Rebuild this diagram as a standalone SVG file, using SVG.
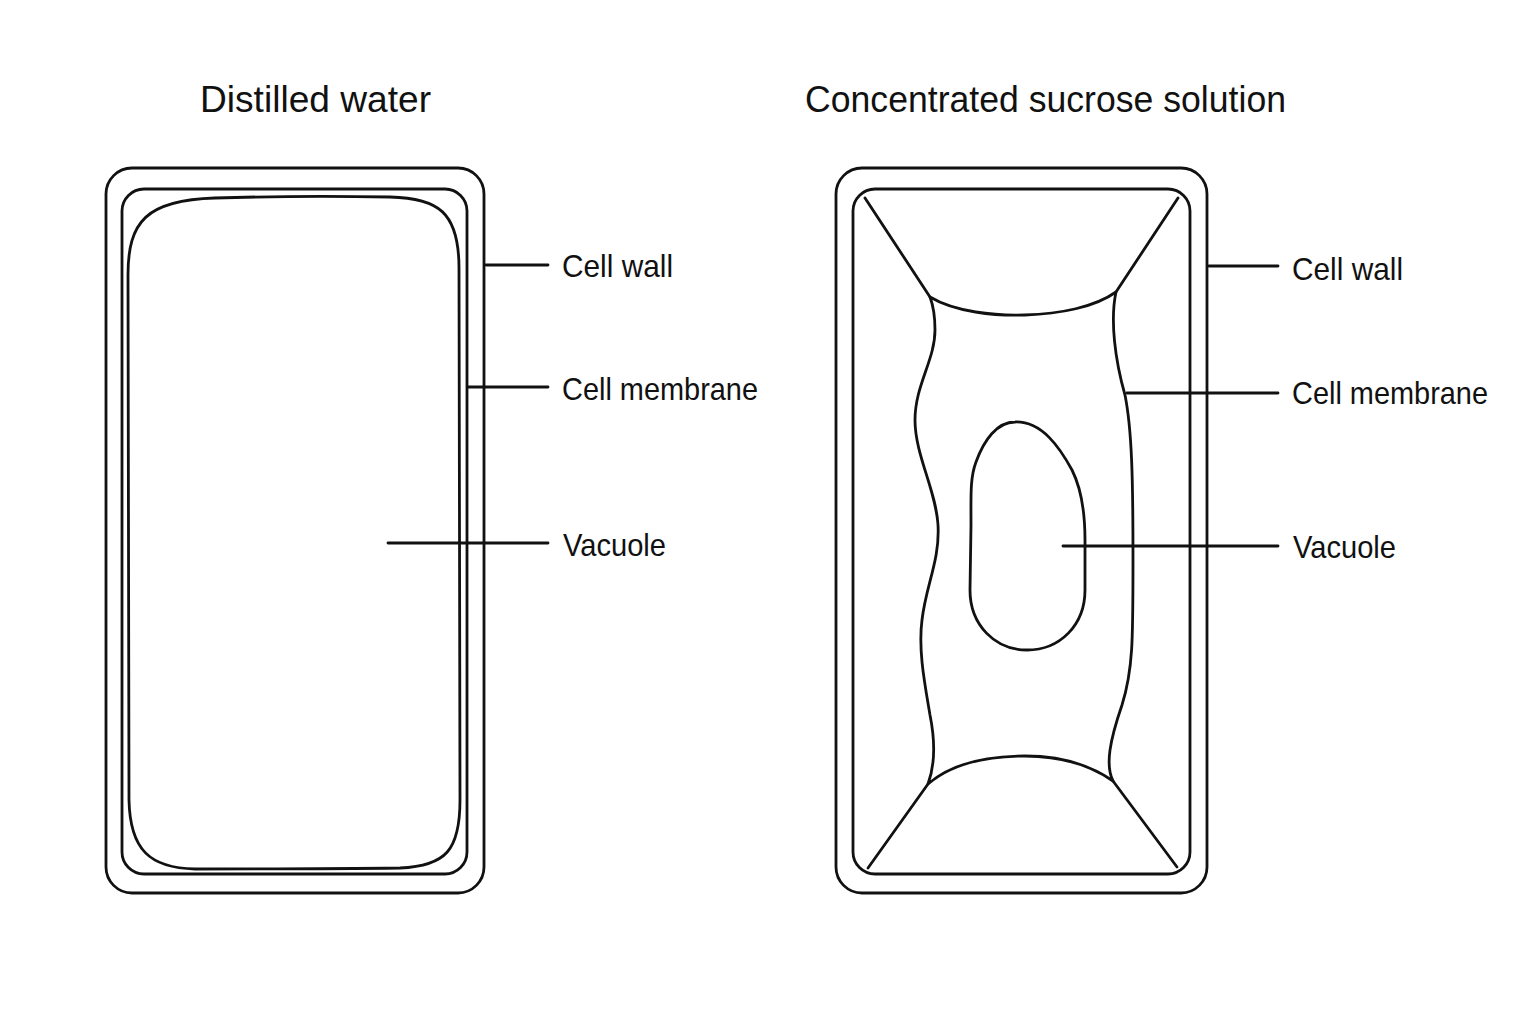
<svg xmlns="http://www.w3.org/2000/svg" width="1536" height="1024" viewBox="0 0 1536 1024">
<style>
.ln{fill:none;stroke:#111;stroke-width:2.8;stroke-linecap:round;stroke-linejoin:round}
.title{font-family:"Liberation Sans",Arial,sans-serif;font-size:37px;fill:#111}
.lbl{font-family:"Liberation Sans",Arial,sans-serif;font-size:32px;fill:#111}
</style>
<rect width="1536" height="1024" fill="#fff"/>
<text class="title" x="200" y="112" textLength="231" lengthAdjust="spacingAndGlyphs">Distilled water</text>
<text class="title" x="805" y="112" textLength="481" lengthAdjust="spacingAndGlyphs">Concentrated sucrose solution</text>

<g id="cell-distilled">
<rect class="ln" x="106" y="168" width="378" height="725" rx="26"/>
<rect class="ln" x="122" y="189" width="345" height="685" rx="22"/>
<path id="vacuole-left" class="ln" d="M128 275 C128 222 146 200 215 198 C280 196 330 196 390 197 C438 198 459 212 459 268 L460 800 C460 850 446 866 400 868 C330 869 260 869 195 869 C150 868 130 850 129 800 Z"/>
</g>

<g id="cell-sucrose">
<rect class="ln" x="836" y="168" width="371" height="725" rx="26"/>
<rect class="ln" x="853" y="189" width="337" height="685" rx="22"/>
<path id="protoplast" class="ln" d="M930 297 C955 312 995 316 1025 315 C1060 314 1095 307 1116 292 C1110 320 1115 360 1125 395 C1132 430 1133 480 1133 560 C1133 640 1133 670 1122 705 C1110 740 1105 765 1113 781 C1090 765 1060 756 1025 756 C985 756 950 765 928 784 C935 765 935 740 930 715 C925 685 918 650 922 620 C926 585 940 560 938 525 C936 490 915 455 915 420 C915 385 935 360 935 330 C935 315 933 305 930 297 Z"/>
<path class="ln" d="M865 198 L930 297"/>
<path class="ln" d="M1178 198 L1116 292"/>
<path class="ln" d="M868 868 L928 784"/>
<path class="ln" d="M1177 867 L1113 781"/>
<path id="vacuole-right" class="ln" d="M1015 422 C1042 421 1060 448 1072 470 C1082 490 1085 512 1085 540 L1085 590 C1085 625 1060 650 1027 650 C995 650 970 625 970 590 L971 525 C971 495 970 478 976 462 C984 440 997 422 1015 422 Z"/>
</g>

<g id="connectors">
<path class="ln" d="M486 265 H548"/>
<path class="ln" d="M468 387 H548"/>
<path class="ln" d="M388 543 H548"/>
<path class="ln" d="M1209 266 H1278"/>
<path class="ln" d="M1127 393 H1278"/>
<path class="ln" d="M1063 546 H1278"/>
</g>

<g id="labels">
<text class="lbl" x="562" y="277" textLength="111" lengthAdjust="spacingAndGlyphs">Cell wall</text>
<text class="lbl" x="562" y="400" textLength="196" lengthAdjust="spacingAndGlyphs">Cell membrane</text>
<text class="lbl" x="563" y="556" textLength="103" lengthAdjust="spacingAndGlyphs">Vacuole</text>
<text class="lbl" x="1292" y="280" textLength="111" lengthAdjust="spacingAndGlyphs">Cell wall</text>
<text class="lbl" x="1292" y="404" textLength="196" lengthAdjust="spacingAndGlyphs">Cell membrane</text>
<text class="lbl" x="1293" y="558" textLength="103" lengthAdjust="spacingAndGlyphs">Vacuole</text>
</g>
</svg>
